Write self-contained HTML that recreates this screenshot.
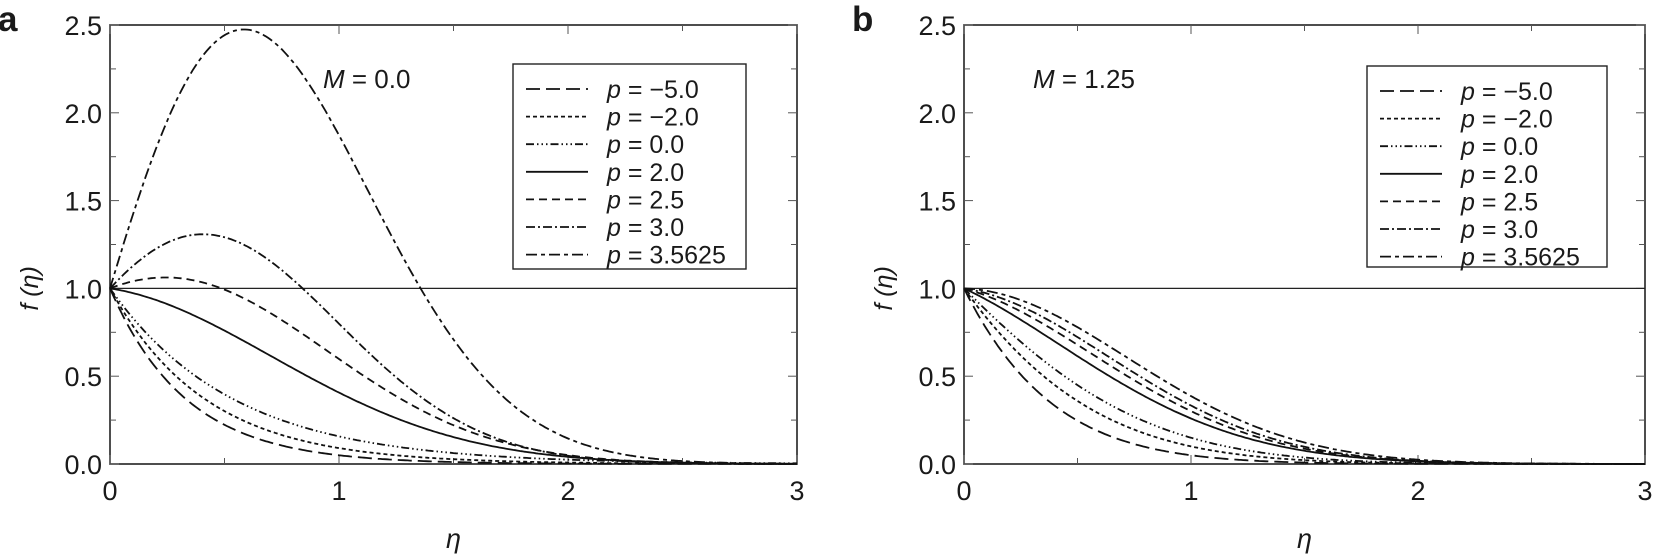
<!DOCTYPE html>
<html><head><meta charset="utf-8">
<style>
html,body{margin:0;padding:0;background:#fff;}
svg{display:block;}
text{font-family:"Liberation Sans",Arial,sans-serif;fill:#1a1a1a;}
</style></head>
<body>
<svg id="s" width="1659" height="554" viewBox="0 0 1659 554" xmlns="http://www.w3.org/2000/svg"></svg>
<script>
const S=document.getElementById('s');
let h='';
const yT=25, y0=464, ky=(y0-yT)/2.5;
const styles={
 m5:'14 6', m2:'4 3', z0:'8 3 1.5 3 1.5 3 1.5 3', p2:'', p25:'8 5', p3:'9 3 2 3', p35:'11 4 4 4'
};
const labels=[['m5',' = −5.0'],['m2',' = −2.0'],['z0',' = 0.0'],['p2',' = 2.0'],['p25',' = 2.5'],['p3',' = 3.0'],['p35',' = 3.5625']];
function panel(x0,x1,letter,M,fns,lg){
  const kx=(x1-x0)/3;
  const X=v=>x0+v*kx, Y=v=>y0-v*ky;
  h+=`<rect x="${x0}" y="${yT}" width="${x1-x0}" height="${y0-yT}" fill="none" stroke="#222" stroke-width="1.6"/>`;
  for(let i=0;i<=10;i++){const v=i*0.25,y=Y(v);const L=i%2==0?9:6;
    h+=`<line x1="${x0}" x2="${x0+L}" y1="${y}" y2="${y}" stroke="#555" stroke-width="1"/><line x1="${x1}" x2="${x1-L}" y1="${y}" y2="${y}" stroke="#555" stroke-width="1"/>`;
    if(i%2==0) h+=`<text x="${x0-8}" y="${y+10}" font-size="27" text-anchor="end">${v.toFixed(1)}</text>`;}
  for(let i=0;i<=6;i++){const x=X(i*0.5);const L=i%2==0?9:6;
    h+=`<line x1="${x}" x2="${x}" y1="${y0}" y2="${y0-L}" stroke="#555" stroke-width="1"/><line x1="${x}" x2="${x}" y1="${yT}" y2="${yT+L}" stroke="#555" stroke-width="1"/>`;
    if(i%2==0) h+=`<text x="${x}" y="500" font-size="27" text-anchor="middle">${i/2}</text>`;}
  h+=`<line x1="${x0}" x2="${x1}" y1="${Y(1)}" y2="${Y(1)}" stroke="#222" stroke-width="1.3"/>`;
  h+=`<text x="${x0-112}" y="31" font-size="35" font-weight="bold">${letter}</text>`;
  h+=`<text transform="translate(${x0-72},${Y(1)}) rotate(-90)" font-size="25" text-anchor="middle" font-style="italic">f (η)</text>`;
  h+=`<text x="${(x0+x1)/2}" y="548" font-size="27" text-anchor="middle" font-style="italic" font-family="Liberation Serif">η</text>`;
  h+=`<text x="${M[0]}" y="88" font-size="26"><tspan font-style="italic">M</tspan> = ${M[1]}</text>`;
  for(const k in fns){let d='';for(let i=0;i<=300;i++){const e=i*0.01;d+=(i?'L':'M')+X(e).toFixed(1)+' '+Y(fns[k](e)).toFixed(1);}
    h+=`<path d="${d}" fill="none" stroke="#111" stroke-width="1.8" ${styles[k]?`stroke-dasharray="${styles[k]}"`:''}/>`;}
  h+=`<rect x="${lg[0]}" y="${lg[1]}" width="${lg[2]}" height="${lg[3]}" fill="#fff" stroke="#222" stroke-width="1.4"/>`;
  labels.forEach((l,i)=>{const y=lg[1]+25+i*27.6;
    h+=`<line x1="${lg[0]+13}" x2="${lg[0]+75}" y1="${y}" y2="${y}" stroke="#111" stroke-width="1.8" ${styles[l[0]]?`stroke-dasharray="${styles[l[0]]}"`:''}/>`;
    h+=`<text x="${lg[0]+94}" y="${y+9}" font-size="25"><tspan font-style="italic">p</tspan>${l[1]}</text>`;});
}
const E=Math.exp;
panel(110,797,'a',[323,'0.0'],{
 m5:e=>E(-3*e), m2:e=>E(-2.4*e), z0:e=>E(-1.85*e), p2:e=>E(-0.2*e-0.7*e*e),
 p25:e=>(1+0.5*e)*E(-0.92*e*e), p3:e=>(1+1.4*e)*E(-1.1*e*e), p35:e=>(1+4.35*e)*E(-1.05*e*e)
},[513,64,233,205]);
panel(964,1645,'b',[1033,'1.25'],{
 m5:e=>E(-2.6*e-0.4*e*e), m2:e=>E(-1.8*e-0.5*e*e), z0:e=>E(-1.3*e-0.6*e*e), p2:e=>E(-0.6*e-0.75*e*e),
 p25:e=>E(-0.35*e-0.85*e*e), p3:e=>E(-0.2*e-0.9*e*e), p35:e=>E(-0.05*e-0.9*e*e)
},[1367,66,240,201]);
S.innerHTML=h;
</script>
</body></html>
